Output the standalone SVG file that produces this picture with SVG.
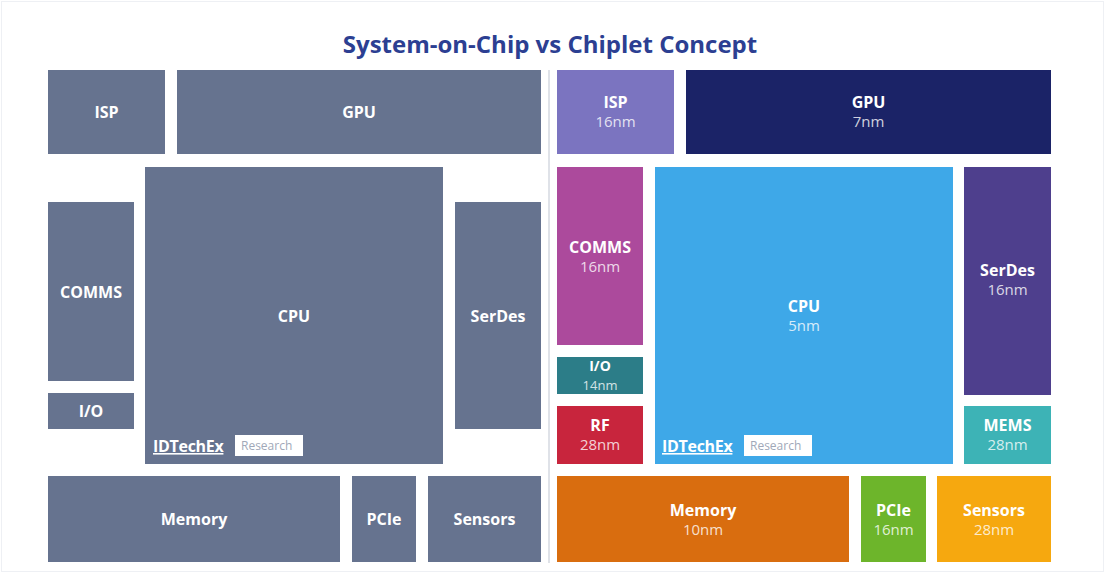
<svg xmlns="http://www.w3.org/2000/svg" width="1108" height="574" viewBox="0 0 1108 574">
<style>
.t{font-family:"Open Sans","Liberation Sans",sans-serif;font-weight:700;font-size:16px;fill:#ffffff;text-anchor:middle}
.s{font-family:"Open Sans","Liberation Sans",sans-serif;font-weight:400;font-size:15px;fill:#ffffff;fill-opacity:0.8;text-anchor:middle}
.soc{fill:#66738f}
.wm{font-family:"Open Sans","Liberation Sans",sans-serif;font-weight:700;font-size:16px;fill:#ffffff;text-decoration:underline;letter-spacing:-0.3px}
.wr{font-family:"Open Sans","Liberation Sans",sans-serif;font-weight:400;font-size:12px;fill:#a0a8b8}
</style>
<rect x="0" y="0" width="1108" height="574" fill="#ffffff"/>
<rect x="1.5" y="1.5" width="1102" height="570" fill="none" stroke="#eef0f4" stroke-width="1"/>
<text x="550" y="53" font-family="'Open Sans','Liberation Sans',sans-serif" font-weight="700" font-size="24" fill="#2c3f92" text-anchor="middle">System-on-Chip vs Chiplet Concept</text>
<line x1="549" y1="70" x2="549" y2="563" stroke="#d4d8e0" stroke-width="1.5"/>

<!-- SoC side -->
<g id="soc-isp"><rect class="soc" x="48" y="70" width="117" height="84"/><text class="t" x="106.5" y="118">ISP</text></g>
<g id="soc-gpu"><rect class="soc" x="177" y="70" width="364" height="84"/><text class="t" x="359" y="118">GPU</text></g>
<g id="soc-cpu"><rect class="soc" x="145" y="167" width="298" height="297"/><text class="t" x="294" y="322">CPU</text>
<text class="wm" x="153" y="452">IDTechEx</text><rect x="235" y="435" width="68" height="21" fill="#ffffff"/><text class="wr" x="241" y="450">Research</text></g>
<g id="soc-comms"><rect class="soc" x="48" y="202" width="86" height="179"/><text class="t" x="91" y="298">COMMS</text></g>
<g id="soc-io"><rect class="soc" x="48" y="393" width="86" height="36"/><text class="t" x="91" y="417">I/O</text></g>
<g id="soc-serdes"><rect class="soc" x="455" y="202" width="86" height="227"/><text class="t" x="498" y="322">SerDes</text></g>
<g id="soc-memory"><rect class="soc" x="48" y="476" width="292" height="86"/><text class="t" x="194" y="525">Memory</text></g>
<g id="soc-pcie"><rect class="soc" x="352" y="476" width="64" height="86"/><text class="t" x="384" y="525">PCIe</text></g>
<g id="soc-sensors"><rect class="soc" x="428" y="476" width="113" height="86"/><text class="t" x="484.5" y="525">Sensors</text></g>

<!-- Chiplet side -->
<g id="chip-isp"><rect x="557" y="70" width="117" height="84" fill="#7b74c0"/><text class="t" x="615.5" y="108">ISP</text><text class="s" x="615.5" y="127">16nm</text></g>
<g id="chip-gpu"><rect x="686" y="70" width="365" height="84" fill="#1b2367"/><text class="t" x="868.5" y="108">GPU</text><text class="s" x="868.5" y="127">7nm</text></g>
<g id="chip-comms"><rect x="557" y="167" width="86" height="178" fill="#ac4a9c"/><text class="t" x="600" y="253">COMMS</text><text class="s" x="600" y="272">16nm</text></g>
<g id="chip-io"><rect x="557" y="357" width="86" height="37" fill="#2c7d88"/><text class="t" x="600" y="371" style="font-size:14px">I/O</text><text class="s" x="600" y="390" style="font-size:13px">14nm</text></g>
<g id="chip-rf"><rect x="557" y="406" width="86" height="58" fill="#c8253d"/><text class="t" x="600" y="431">RF</text><text class="s" x="600" y="450">28nm</text></g>
<g id="chip-cpu"><rect x="655" y="167" width="298" height="297" fill="#3ea8e8"/><text class="t" x="804" y="312">CPU</text><text class="s" x="804" y="331">5nm</text>
<text class="wm" x="662" y="452">IDTechEx</text><rect x="744" y="435" width="68" height="21" fill="#ffffff"/><text class="wr" x="750" y="450">Research</text></g>
<g id="chip-serdes"><rect x="964" y="167" width="87" height="228" fill="#4e3f8d"/><text class="t" x="1007.5" y="276">SerDes</text><text class="s" x="1007.5" y="295">16nm</text></g>
<g id="chip-mems"><rect x="964" y="406" width="87" height="58" fill="#3db3b6"/><text class="t" x="1007.5" y="431">MEMS</text><text class="s" x="1007.5" y="450">28nm</text></g>
<g id="chip-memory"><rect x="557" y="476" width="292" height="86" fill="#d96d0f"/><text class="t" x="703" y="516">Memory</text><text class="s" x="703" y="535">10nm</text></g>
<g id="chip-pcie"><rect x="861" y="476" width="65" height="86" fill="#6db52b"/><text class="t" x="893.5" y="516">PCIe</text><text class="s" x="893.5" y="535">16nm</text></g>
<g id="chip-sensors"><rect x="937" y="476" width="114" height="86" fill="#f6a80f"/><text class="t" x="994" y="516">Sensors</text><text class="s" x="994" y="535">28nm</text></g>
<g id="connectors"></g>
</svg>
